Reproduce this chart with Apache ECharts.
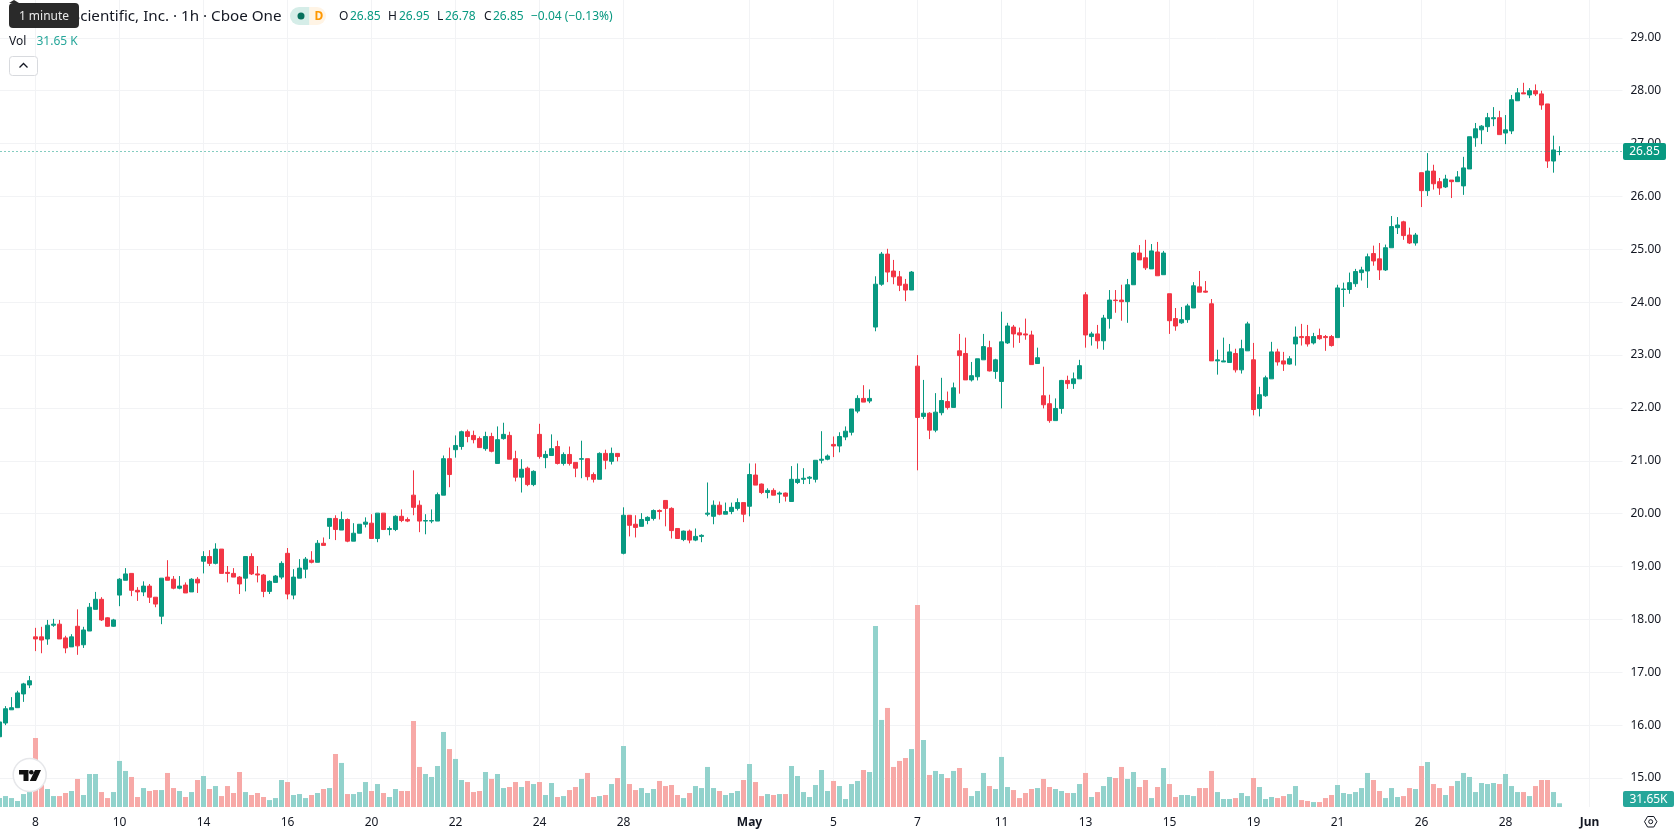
<!DOCTYPE html>
<html>
<head>
<meta charset="utf-8">
<title>Hourly candlestick chart</title>
<style>html,body{margin:0;padding:0;background:#fff}#chart{width:1678px;height:835px}</style>
<script src="https://cdn.jsdelivr.net/npm/echarts@6/dist/echarts.min.js"></script>
</head>
<body>
<div id="chart"></div>
<script>
// Hourly bars, seven per trading day.
const opens = [15.78,16.04,16.29,16.33,16.59,16.76,17.67,17.67,17.63,17.89,
17.91,17.65,17.48,17.87,17.52,17.78,18.19,18.38,18.03,17.87,
18.46,18.74,18.87,18.55,18.52,18.63,18.42,18.06,18.80,18.76,
18.59,18.65,18.52,18.76,19.10,19.19,19.06,19.33,18.89,18.87,
18.80,18.78,19.19,18.86,18.84,18.53,18.70,18.80,19.25,18.46,
18.78,18.95,19.12,19.08,19.44,19.76,19.91,19.69,19.89,19.48,
19.63,19.80,19.82,19.53,20.01,19.70,19.70,19.95,19.89,20.35,
20.16,19.86,19.86,19.86,20.35,21.04,21.21,21.27,21.55,21.48,
21.42,21.23,21.46,20.95,21.42,21.48,21.04,20.69,20.86,20.55,
21.50,21.06,21.10,21.27,20.95,21.12,20.97,21.03,21.04,20.74,
20.65,21.14,20.99,21.14,19.25,19.97,19.80,19.76,19.87,19.91,
20.06,20.25,20.10,19.72,19.51,19.67,19.50,19.57,19.99,19.95,
20.16,19.99,20.04,20.10,20.21,20.14,20.73,20.56,20.40,20.44,
20.37,20.39,20.23,20.59,20.65,20.67,20.65,21.01,21.03,21.31,
21.28,21.45,21.54,21.94,22.18,22.13,23.53,24.34,24.91,24.59,
24.48,24.34,24.23,22.79,21.84,21.90,21.58,21.91,22.12,22.01,
23.08,23.03,22.53,22.59,22.91,23.14,22.69,22.50,23.23,23.53,
23.42,23.40,23.38,22.84,22.23,22.08,21.76,21.99,22.52,22.46,
22.55,24.14,23.35,23.40,23.27,23.69,24.04,24.04,24.01,24.33,
24.93,24.84,24.63,24.95,24.52,24.16,23.69,23.61,23.67,23.89,
24.29,24.21,23.97,22.89,22.87,22.86,23.03,22.72,23.08,22.91,
21.99,22.23,22.55,23.06,22.89,22.83,23.21,23.35,23.35,23.23,
23.37,23.35,23.35,23.33,24.24,24.24,24.35,24.56,24.59,24.92,
24.82,24.61,25.03,25.41,25.52,25.27,25.12,26.45,26.11,26.48,
26.28,26.18,26.31,26.28,26.20,26.52,27.11,27.26,27.32,27.47,
27.49,27.20,27.24,27.81,27.96,27.92,28.00,27.94,27.75,26.67,26.85];

const closes = [16.06,16.31,16.33,16.61,16.78,16.84,17.63,17.61,17.89,17.91,
17.63,17.46,17.67,17.50,17.80,18.23,18.38,17.99,17.87,17.99,
18.76,18.86,18.55,18.52,18.63,18.42,18.29,18.78,18.74,18.59,
18.63,18.50,18.76,18.69,19.19,19.06,19.33,18.87,18.87,18.80,
18.67,19.19,18.86,18.84,18.53,18.72,18.82,19.06,18.48,18.80,
18.97,19.14,19.08,19.44,19.40,19.91,19.70,19.89,19.48,19.63,
19.80,19.84,19.53,20.01,19.70,19.72,19.95,19.87,19.86,20.12,
19.86,19.87,19.87,20.36,21.04,20.74,21.29,21.55,21.46,21.40,
21.25,21.46,21.18,21.40,21.50,21.03,20.69,20.84,20.55,20.80,
21.08,21.12,21.23,20.95,21.12,20.95,20.86,21.04,20.70,20.65,
21.14,21.01,21.14,21.08,19.97,19.78,19.74,19.89,19.93,20.06,
20.04,20.10,19.68,19.53,19.67,19.50,19.57,19.59,20.01,20.16,
19.99,20.04,20.12,20.21,19.99,20.74,20.54,20.40,20.44,20.35,
20.39,20.33,20.65,20.65,20.67,20.69,21.01,21.03,21.09,21.28,
21.46,21.56,21.98,22.18,22.11,22.18,24.34,24.91,24.57,24.48,
24.32,24.23,24.57,21.82,21.90,21.58,21.92,22.14,22.01,22.38,
22.99,22.53,22.61,22.93,23.16,22.70,22.91,23.25,23.55,23.40,
23.38,23.38,22.82,22.95,22.06,21.76,21.99,22.52,22.46,22.55,
22.80,23.38,23.40,23.27,23.70,24.04,24.03,24.01,24.33,24.93,
24.80,24.65,24.97,24.50,24.93,23.65,23.55,23.67,23.93,24.31,
24.19,24.19,22.89,22.91,22.89,23.06,22.72,23.12,23.59,21.97,
22.25,22.57,23.06,22.87,22.83,22.93,23.34,23.33,23.21,23.35,
23.31,23.33,23.18,24.27,24.25,24.37,24.58,24.61,24.86,24.78,
24.61,25.03,25.43,25.46,25.26,25.12,25.27,26.11,26.48,26.24,
26.16,26.33,26.28,26.37,26.54,27.13,27.28,27.33,27.49,27.49,
27.17,27.26,27.83,27.96,27.94,28.00,27.94,27.73,26.67,26.88,26.85];

const lows = [15.78,16.00,16.29,16.33,16.44,16.70,17.40,17.36,17.52,17.86,
17.63,17.36,17.48,17.33,17.46,17.78,18.19,17.97,17.86,17.86,
18.25,18.74,18.44,18.35,18.44,18.31,18.23,17.91,18.74,18.57,
18.57,18.50,18.52,18.50,18.87,19.01,19.04,18.87,18.70,18.80,
18.48,18.53,18.84,18.70,18.42,18.48,18.70,18.76,18.38,18.38,
18.78,18.78,19.06,19.08,19.40,19.52,19.50,19.69,19.46,19.48,
19.63,19.74,19.53,19.46,19.69,19.59,19.67,19.84,19.84,19.97,
19.65,19.61,19.82,19.86,20.35,20.50,21.06,21.21,21.35,21.33,
21.25,21.19,21.16,20.95,21.40,21.03,20.61,20.40,20.52,20.52,
21.04,20.86,21.10,20.93,20.91,20.91,20.69,20.67,20.63,20.59,
20.65,20.84,20.93,20.99,19.23,19.57,19.55,19.76,19.80,19.87,
19.89,19.76,19.53,19.53,19.48,19.44,19.48,19.46,19.95,19.80,
19.97,19.99,19.99,20.06,19.84,19.95,20.54,20.37,20.29,20.35,
20.20,20.23,20.23,20.56,20.56,20.56,20.59,20.95,21.01,21.07,
21.16,21.39,21.48,21.90,22.11,22.09,23.45,24.31,24.38,24.34,
24.21,24.02,24.23,20.82,21.79,21.41,21.54,21.86,21.97,22.01,
22.27,22.53,22.50,22.52,22.91,22.69,22.55,21.99,23.21,23.14,
23.23,23.29,22.82,22.84,21.99,21.72,21.76,21.89,22.36,22.36,
22.55,23.14,23.18,23.12,23.10,23.50,23.80,23.65,23.61,24.33,
24.80,24.61,24.63,24.50,24.52,23.40,23.46,23.59,23.61,23.89,
24.19,24.18,22.89,22.63,22.87,22.86,22.67,22.65,23.08,21.86,
21.84,22.21,22.55,22.80,22.70,22.82,22.80,23.18,23.16,23.20,
23.29,23.08,23.16,23.33,23.91,24.16,24.29,24.41,24.27,24.69,
24.42,24.59,25.03,25.29,25.18,25.10,25.07,25.80,26.01,26.13,
26.03,26.16,25.97,26.28,26.03,26.52,26.94,26.99,27.22,27.33,
27.17,26.99,27.18,27.81,27.94,27.86,27.90,27.64,26.54,26.45,26.78];

const highs = [16.06,16.36,16.53,16.65,16.80,16.93,17.84,17.86,17.99,18.01,
17.99,17.69,17.72,18.19,17.86,18.31,18.52,18.42,18.04,18.01,
18.78,18.97,18.87,18.61,18.72,18.67,18.42,18.78,19.12,18.82,
18.82,18.70,18.78,18.80,19.29,19.31,19.44,19.33,19.01,18.97,
18.82,19.19,19.25,19.01,18.86,18.74,18.84,19.10,19.35,18.95,
19.14,19.18,19.29,19.50,19.55,19.91,19.97,20.04,19.91,19.82,
19.80,19.93,19.99,20.01,20.01,19.76,19.97,20.08,19.93,20.82,
20.25,19.99,20.08,20.40,21.10,21.25,21.48,21.57,21.59,21.57,
21.46,21.55,21.53,21.65,21.72,21.55,21.19,21.03,20.89,20.82,
21.70,21.19,21.50,21.38,21.16,21.27,20.97,21.38,21.04,20.78,
21.16,21.21,21.25,21.14,20.12,19.97,19.97,20.01,19.95,20.08,
20.08,20.25,20.12,19.72,19.68,19.70,19.72,19.61,20.59,20.25,
20.23,20.21,20.21,20.29,20.21,20.95,20.95,20.57,20.48,20.48,
20.42,20.40,20.90,20.95,20.86,20.71,21.01,21.56,21.12,21.46,
21.54,21.65,21.98,22.24,22.43,22.35,24.49,24.95,25.01,24.80,
24.59,24.44,24.59,23.00,22.53,21.92,22.28,22.57,22.31,22.48,
23.40,23.33,22.87,22.93,23.40,23.27,22.93,23.82,23.61,23.57,
23.52,23.69,23.46,23.14,22.78,22.25,22.18,22.53,22.61,22.67,
22.91,24.19,23.44,23.57,23.76,24.23,24.23,24.33,24.44,24.95,
25.08,25.18,25.10,25.14,24.97,24.16,23.89,23.91,23.97,24.38,
24.59,24.40,24.06,23.10,23.33,23.21,23.12,23.29,23.63,23.23,
22.40,22.61,23.25,23.12,23.06,22.98,23.54,23.59,23.57,23.42,
23.50,23.38,23.38,24.33,24.37,24.56,24.63,24.67,24.92,25.07,
25.12,25.09,25.63,25.61,25.54,25.41,25.31,26.45,26.82,26.60,
26.35,26.41,26.31,26.48,26.75,27.13,27.39,27.35,27.58,27.69,
27.62,27.54,27.92,28.05,28.15,28.05,28.12,28.00,27.75,27.15,26.95];

// Volume per bar, in thousands of shares.
const volumes = [76,93,76,51,110,127,586,187,153,93,
93,119,136,238,102,280,280,127,76,127,
391,306,255,85,161,136,144,144,289,161,
136,85,127,229,263,153,178,93,178,119,
297,127,102,119,85,59,76,229,212,102,
110,76,102,119,153,161,450,374,110,110,
127,212,136,195,119,85,153,136,136,730,
340,280,255,348,637,492,408,229,212,127,
136,297,238,280,161,170,212,170,221,195,
212,102,204,85,93,144,170,238,289,85,
93,102,195,246,518,195,144,161,119,153,
221,178,187,102,76,119,178,161,340,161,
136,102,119,136,229,365,212,93,110,102,
110,110,348,263,127,85,187,314,136,221,
178,68,195,221,314,297,1537,739,841,340,
391,416,492,1715,569,272,306,280,246,306,
331,161,93,136,289,178,153,425,170,144,
76,119,153,161,238,170,153,136,119,119,
195,289,85,127,178,255,246,340,238,297,
170,229,76,170,331,195,85,102,102,93,
161,161,306,127,68,68,76,119,93,246,
170,68,85,76,93,110,178,59,51,42,
42,76,102,187,119,110,127,161,289,229,
136,76,161,85,93,161,153,348,382,195,
161,102,178,221,289,255,127,204,195,204,
195,280,178,127,127,93,178,229,229,127,31.65];

// Date labels on the time scale and the bar each one sits on.
const tickLabels = ['8','10','14','16','20','22','24','28','May','5','7','11','13','15','19','21','26','28','Jun'];
const tickBars = [6,20,34,48,62,76,90,104,125,139,153,167,181,195,209,223,237,251,265];
const boldTicks = ['May','Jun'];
const spareBars = 10;

const lastPrice = 26.85;
const lastVolume = '31.65K';
const legendValues = [
  {key:'O', val:'26.85', kx:339, vx:350},
  {key:'H', val:'26.95', kx:388, vx:399},
  {key:'L', val:'26.78', kx:437, vx:445},
  {key:'C', val:'26.85', kx:484, vx:493}
];

const UP = '#089981', DOWN = '#f23645';
const VOL_UP = '#92d2cc', VOL_DOWN = '#f7a9a7';
const GRID_LINE = '#f2f3f5', INK = '#131722';
const FONT = '"Noto Sans", sans-serif';

const categories = opens.concat(new Array(spareBars).fill(0)).map(function (_, i) {
  const at = tickBars.indexOf(i);
  return at >= 0 ? tickLabels[at] : '';
});
const isTick = function (i) { return tickBars.indexOf(i) >= 0; };

const candles = opens.map(function (o, i) {
  const v = [o, closes[i], lows[i], highs[i]];
  // Unchanged bars keep the rising colour.
  return o === closes[i] ? {value: v, itemStyle: {color: UP, borderColor: UP}} : v;
});
const volumeBars = volumes.map(function (v, i) {
  return {value: v, itemStyle: {color: closes[i] >= opens[i] ? VOL_UP : VOL_DOWN}};
});

function label(x, y, text, fill, size, weight, align) {
  return {type:'text', z:100, silent:true, style:{
    x:x, y:y, text:text, fill:fill, align:align || 'left', verticalAlign:'middle',
    font:(weight || 'normal') + ' ' + (size || 12) + 'px ' + FONT
  }};
}
function box(x, y, w, h, fill, r, stroke, z) {
  return {type:'rect', z:z || 100, silent:true, shape:{x:x,y:y,width:w,height:h,r:r || 0},
    style:{fill:fill, stroke:stroke || null, lineWidth:1}};
}
function poly(points, fill, z) {
  return {type:'polygon', z:z || 101, silent:true, shape:{points:points}, style:{fill:fill}};
}

const overlay = [
  // Symbol title, partly covered by the interval hint.
  label(281.5, 17, 'Scientific, Inc. · 1h · Cboe One', INK, 15.2, 'normal', 'right'),
  box(9, 3, 70, 25, '#2a2a2a', 4, null, 102),
  poly([[9,3],[14,0],[19,3]], '#2a2a2a', 102),
  Object.assign(label(44, 16.5, '1 minute', '#e8e8e8', 12, 'normal', 'center'), {z:103}),
  // Market status pill.
  box(290, 7, 19.5, 18, '#d5ede8', [9,0,0,9]),
  box(309.5, 7, 16.5, 18, '#fff4e5', [0,9,9,0]),
  {type:'circle', z:101, silent:true, shape:{cx:301, cy:16, r:3.5}, style:{fill:'#06705c'}},
  label(319, 16.5, 'D', '#ff9800', 12, 'bold', 'center'),
  label(531, 17, '−0.04 (−0.13%)', UP, 12),
  label(9, 41.5, 'Vol', INK, 12),
  label(36.5, 41.5, '31.65 K', '#26a69a', 12),
  // Collapse button.
  box(9.5, 56.5, 28, 19, '#fff', 3, '#d8dade'),
  {type:'polyline', z:101, silent:true, shape:{points:[[19.5,67.5],[23.5,63.5],[27.5,67.5]]},
    style:{stroke:INK, lineWidth:1.3, fill:null}},
  // Brand badge.
  {type:'circle', z:100, silent:true, shape:{cx:29.7, cy:775, r:16.5},
    style:{fill:'#fff', stroke:'#e6e7ea', lineWidth:1.5}},
  poly([[19,770],[28.5,770],[28.5,781],[23.5,781],[23.5,774.5],[19,774.5]], '#111'),
  {type:'circle', z:101, silent:true, shape:{cx:31.3, cy:772.3, r:2.3}, style:{fill:'#111'}},
  poly([[35,770],[41,770],[36,781],[29.8,781]], '#111'),
  // Last price and last volume tags on the scale.
  box(1623, 143, 43, 17, UP, 2),
  label(1644.5, 152, lastPrice.toFixed(2), '#fff', 12, 'normal', 'center'),
  box(1623, 791, 51, 16, '#26a69a', 2),
  label(1648.5, 799.5, lastVolume, '#fff', 12, 'normal', 'center'),
  // Scale settings icon.
  {type:'polygon', z:100, silent:true, shape:{points:[[1644.5,821.7],[1647.6,816.5],[1653.8,816.5],[1656.9,821.7],[1653.8,827],[1647.6,827]]},
    style:{fill:'#fff', stroke:INK, lineWidth:1}},
  {type:'circle', z:101, silent:true, shape:{cx:1650.7, cy:821.7, r:2}, style:{fill:'#fff', stroke:INK, lineWidth:1}}
];
legendValues.forEach(function (d) {
  overlay.push(label(d.kx, 17, d.key, INK, 12));
  overlay.push(label(d.vx, 17, d.val, UP, 12));
});

const chart = echarts.init(document.getElementById('chart'), null, {width:1678, height:835, renderer:'canvas'});
chart.setOption({
  animation:false,
  backgroundColor:'#fff',
  grid:[
    {left:-3.5, width:1626, top:-15, height:793, outerBoundsMode:'none'},
    {left:-3.5, width:1626, top:0, height:807, outerBoundsMode:'none'}
  ],
  xAxis:[
    {type:'category', gridIndex:0, data:categories, show:false, boundaryGap:true},
    {type:'category', gridIndex:1, data:categories, boundaryGap:true,
     axisLine:{show:false}, axisTick:{show:false},
     splitLine:{show:true, alignWithLabel:true, interval:isTick, lineStyle:{color:GRID_LINE, width:1}},
     axisLabel:{show:true, interval:isTick, margin:10, color:INK, fontSize:12, fontFamily:FONT,
       hideOverlap:false,
       formatter:function (v) { return boldTicks.indexOf(v) >= 0 ? '{b|' + v + '}' : v; },
       rich:{b:{fontWeight:'bold', fontSize:12, fontFamily:FONT, color:INK}}}}
  ],
  yAxis:[
    {type:'value', gridIndex:0, position:'right', min:15, max:30, interval:1, scale:true,
     axisLine:{show:false}, axisTick:{show:false},
     splitLine:{show:true, lineStyle:{color:GRID_LINE, width:1}},
     axisLabel:{color:INK, fontSize:12, fontFamily:FONT, margin:8, align:'left', padding:[2,0,0,0],
       formatter:function (v) { return v.toFixed(2); }}},
    {type:'value', gridIndex:1, min:0, max:6851, show:false, splitLine:{show:false}}
  ],
  series:[
    {type:'bar', xAxisIndex:1, yAxisIndex:1, data:volumeBars, barWidth:5, silent:true},
    {type:'candlestick', xAxisIndex:0, yAxisIndex:0, data:candles, barWidth:4, silent:true,
     itemStyle:{color:UP, color0:DOWN, borderColor:UP, borderColor0:DOWN, borderWidth:1},
     markLine:{silent:true, symbol:'none', animation:false, label:{show:false},
       lineStyle:{color:UP, width:1, type:[1,3]}, data:[{yAxis:lastPrice}]}}
  ],
  graphic:overlay
});
</script>
</body>
</html>
